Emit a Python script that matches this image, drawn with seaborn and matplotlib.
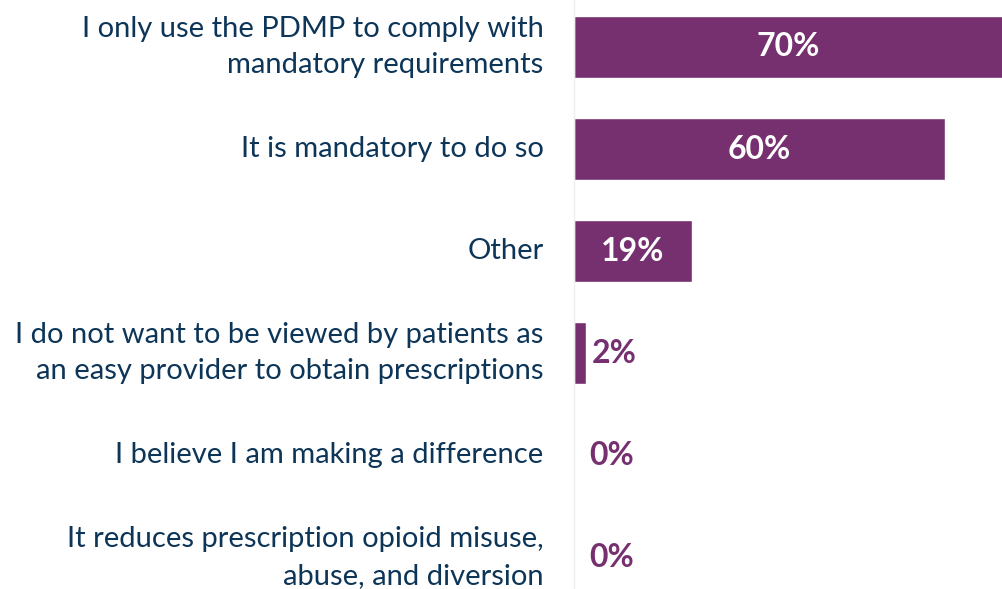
import matplotlib
matplotlib.use("Agg")
import matplotlib.pyplot as plt
import seaborn as sns
import pandas as pd

categories = [
    "I only use the PDMP to comply with\nmandatory requirements",
    "It is mandatory to do so",
    "Other",
    "I do not want to be viewed by patients as\nan easy provider to obtain prescriptions",
    "I believe I am making a difference",
    "It reduces prescription opioid misuse,\nabuse, and diversion",
]
values = [70, 60, 19, 2, 0, 0]
value_labels = ["70%", "60%", "19%", "2%", "0%", "0%"]

sns.set_theme(style="white")
plt.rcParams['font.family'] = ['Lato', 'DejaVu Sans']

purple = "#76306F"
navy = "#0D3558"

df = pd.DataFrame({"cat": categories, "val": values})

fig = plt.figure(figsize=(10.03, 5.89), dpi=100)
ax = fig.add_axes([574/1003, 0, 429/1003, 1])
sns.barplot(data=df, x="val", y="cat", orient="h", color=purple, width=0.61,
            saturation=1, ax=ax)
ax.set_xlim(0, 69.3)
ax.set_ylim(5.31, -0.46)
ax.set_xlabel("")
ax.set_ylabel("")
ax.set_xticks([])
ax.tick_params(axis="y", length=0, pad=22, labelsize=21, labelcolor=navy)
for lbl in ax.get_yticklabels():
    lbl.set_linespacing(1.5)
    lbl.set_verticalalignment("center")
for s in ["top", "right", "bottom"]:
    ax.spines[s].set_visible(False)
ax.spines["left"].set_color("#eeeeee")
ax.spines["left"].set_linewidth(1)

xmax = ax.get_xlim()[1]
for i, (v, t) in enumerate(zip(values, value_labels)):
    if v >= 10:
        ax.text(min(v, xmax) / 2, i, t, ha="center", va="center", color="white",
                fontsize=23, fontweight="bold")
    else:
        ax.text(v + 0.8 if v > 0 else 2.5, i, t, ha="left", va="center", color=purple,
                fontsize=23, fontweight="bold")

fig.savefig("out.png", dpi=100)
